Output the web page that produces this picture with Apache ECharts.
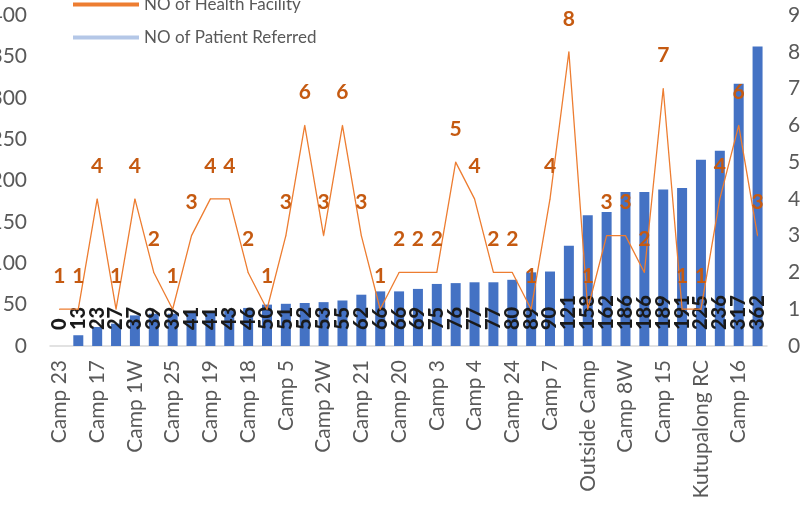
<!DOCTYPE html>
<html>
<head>
<meta charset="utf-8">
<script src="https://cdn.jsdelivr.net/npm/echarts@6/dist/echarts.min.js"></script>
<style>
html,body{margin:0;padding:0;background:#fff;}
#chart{width:810px;height:507px;}
</style>
</head>
<body>
<div id="chart"></div>
<script>
const categories = [
  'Camp 23','Camp 13','Camp 17','Camp 9','Camp 1W','Camp 12','Camp 25','Camp 22',
  'Camp 19','Camp 14','Camp 18','Camp 26','Camp 5','Camp 11','Camp 2W','Camp 6',
  'Camp 21','Camp 27','Camp 20','Camp 20 Ext','Camp 3','Camp 10','Camp 4','Camp 4 Ext',
  'Camp 24','Camp 2E','Camp 7','Camp 1E','Outside Camp','Camp 8E','Camp 8W','Camp 15 A',
  'Camp 15','Camp 18 A','Kutupalong RC','Nayapara RC','Camp 16','Camp 12 A'
];
const patientsReferred = [0,13,23,27,37,39,39,41,41,43,46,50,51,52,53,55,62,66,66,69,75,76,77,77,80,89,90,121,158,162,186,186,189,191,225,236,317,362];
const healthFacilities = [1,1,4,1,4,2,1,3,4,4,2,1,3,6,3,6,3,1,2,2,2,5,4,2,2,1,4,8,1,3,3,2,7,1,1,4,6,3];
const leftTicks = {min:0, max:400, interval:50};
const rightTicks = {min:0, max:9, interval:1};

const FONT = 'Lato';
const chart = echarts.init(document.getElementById('chart'));
chart.setOption({
  animation: false,
  textStyle: {fontFamily: FONT},
  grid: {left: 50, right: 43, top: 15, bottom: 161, containLabel: false, outerBoundsMode: 'none'},
  legend: {
    orient: 'vertical', left: 68, top: -9, itemGap: 16,
    itemWidth: 66, itemHeight: 4, icon: 'rect',
    textStyle: {fontFamily: FONT, fontSize: 17, color: '#595959'},
    data: [
      {name: 'NO of Health Facility', itemStyle: {color: '#ed7d31'}},
      {name: 'NO of Patient Referred', itemStyle: {color: '#b4c7e7'}}
    ]
  },
  xAxis: {
    type: 'category', data: categories,
    axisLine: {lineStyle: {color: '#d9d9d9', width: 1.5}},
    axisTick: {show: false},
    axisLabel: {interval: 1, rotate: 90, fontSize: 21, color: '#595959', margin: 14, fontFamily: FONT}
  },
  yAxis: [
    {type: 'value', min: leftTicks.min, max: leftTicks.max, interval: leftTicks.interval,
     splitLine: {show: false}, axisLine: {show: false}, axisTick: {show: false},
     axisLabel: {fontSize: 21, color: '#595959', margin: 23, fontFamily: FONT}},
    {type: 'value', min: rightTicks.min, max: rightTicks.max, interval: rightTicks.interval,
     splitLine: {show: false}, axisLine: {show: false}, axisTick: {show: false},
     axisLabel: {fontSize: 21, color: '#595959', margin: 21, fontFamily: FONT}}
  ],
  series: [
    {
      name: 'NO of Patient Referred', type: 'bar', yAxisIndex: 0,
      data: patientsReferred, barWidth: 10,
      itemStyle: {color: '#4472c4'},
      label: {
        show: true, position: 'insideBottom', distance: 16, rotate: 90,
        align: 'left', verticalAlign: 'middle',
        fontSize: 20, fontWeight: 900, color: '#1a1a1a', fontFamily: FONT
      }
    },
    {
      name: 'NO of Health Facility', type: 'line', yAxisIndex: 1,
      data: healthFacilities, showSymbol: true, symbol: 'circle', symbolSize: 1,
      lineStyle: {color: '#ed7d31', width: 1.3},
      itemStyle: {color: '#ed7d31'},
      label: {
        show: true, position: 'top', distance: 22,
        fontSize: 21, fontWeight: 'bold', color: '#c55a11', fontFamily: FONT
      },
      labelLayout: {hideOverlap: false},
      z: 3
    }
  ]
});
</script>
</body>
</html>
